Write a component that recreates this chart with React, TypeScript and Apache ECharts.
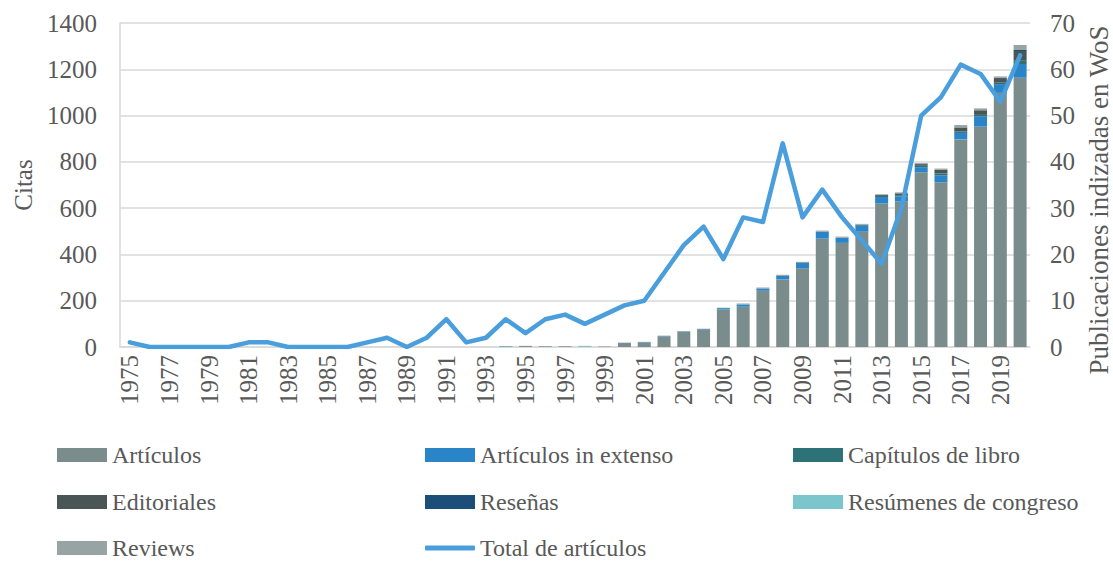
import React, { useEffect, useRef } from "react";
import * as echarts from "echarts";

const years = [
  "1975", "1976", "1977", "1978", "1979", "1980", "1981", "1982", "1983", "1984",
  "1985", "1986", "1987", "1988", "1989", "1990", "1991", "1992", "1993", "1994",
  "1995", "1996", "1997", "1998", "1999", "2000", "2001", "2002", "2003", "2004",
  "2005", "2006", "2007", "2008", "2009", "2010", "2011", "2012", "2013", "2014",
  "2015", "2016", "2017", "2018", "2019", "2020",
];

const articulos = [
  0, 0, 0, 0, 0, 0, 0, 0, 0, 0,
  0, 0, 0, 0, 0, 0, 0, 0, 0, 2,
  4, 3, 3, 2, 2, 17, 20, 46, 66, 75,
  163, 174, 243, 292, 340, 468, 450, 498, 620, 628,
  755, 712, 897, 952, 1098, 1163,
];
const extenso = [
  0, 0, 0, 0, 0, 0, 0, 0, 0, 0,
  0, 0, 0, 0, 0, 0, 0, 0, 0, 1,
  0, 0, 0, 0, 0, 1, 2, 2, 2, 3,
  5, 10, 10, 15, 23, 30, 22, 26, 28, 22,
  22, 30, 28, 45, 38, 60,
];
const capitulos = [
  0, 0, 0, 0, 0, 0, 0, 0, 0, 0,
  0, 0, 0, 0, 0, 0, 0, 0, 0, 0,
  0, 0, 0, 0, 0, 0, 0, 0, 0, 0,
  0, 0, 0, 0, 0, 0, 0, 4, 5, 6,
  6, 8, 6, 6, 6, 14,
];
const editoriales = [
  0, 0, 0, 0, 0, 0, 0, 0, 0, 0,
  0, 0, 0, 0, 0, 0, 0, 0, 0, 0,
  0, 0, 0, 0, 0, 0, 0, 0, 0, 0,
  0, 0, 0, 0, 0, 0, 0, 0, 4, 8,
  7, 16, 16, 20, 20, 42,
];
const resenas = [
  0, 0, 0, 0, 0, 0, 0, 0, 0, 0,
  0, 0, 0, 0, 0, 0, 0, 0, 0, 0,
  0, 0, 0, 0, 0, 0, 0, 0, 0, 0,
  0, 0, 0, 0, 0, 0, 0, 0, 0, 0,
  2, 0, 2, 0, 2, 4,
];
const resumenes = [
  0, 0, 0, 0, 0, 0, 0, 0, 0, 0,
  0, 0, 0, 0, 0, 0, 0, 0, 0, 1,
  0, 0, 0, 3, 0, 0, 0, 0, 0, 0,
  2, 1, 0, 0, 0, 0, 0, 0, 0, 0,
  0, 0, 0, 0, 0, 0,
];
const reviews = [
  0, 0, 0, 0, 0, 0, 0, 0, 0, 0,
  0, 0, 0, 0, 0, 0, 0, 0, 0, 0,
  1, 0, 0, 0, 0, 1, 0, 1, 1, 1,
  0, 3, 4, 5, 5, 5, 5, 4, 3, 4,
  3, 5, 10, 8, 5, 22,
];
const totalArticulos = [
  1, 0, 0, 0, 0, 0, 1, 1, 0, 0,
  0, 0, 1, 2, 0, 2, 6, 1, 2, 6,
  3, 6, 7, 5, 7, 9, 10, 16, 22, 26,
  19, 28, 27, 44, 28, 34, 28, 23, 18, 30,
  50, 54, 61, 59, 53, 63,
];

const leftTicks = [0, 200, 400, 600, 800, 1000, 1200, 1400];
const rightTicks = [0, 10, 20, 30, 40, 50, 60, 70];

const FONT = "Liberation Serif";
const TXT = "#595959";

const barSeries = [
  { name: "Artículos", data: articulos, color: "#7B8C8D" },
  { name: "Artículos in extenso", data: extenso, color: "#2A84C8" },
  { name: "Capítulos de libro", data: capitulos, color: "#2D7276" },
  { name: "Editoriales", data: editoriales, color: "#4A5556" },
  { name: "Reseñas", data: resenas, color: "#1B4E79" },
  { name: "Resúmenes de congreso", data: resumenes, color: "#7BC5CC" },
  { name: "Reviews", data: reviews, color: "#98A3A3" },
];
const lineName = "Total de artículos";
const lineColor = "#4A9EDC";

// legend layout: [name, left, rowCenter]
const legendPos: [string, number, number][] = [
  ["Artículos", 57, 455],
  ["Artículos in extenso", 425, 455],
  ["Capítulos de libro", 793, 455],
  ["Editoriales", 57, 502],
  ["Reseñas", 425, 502],
  ["Resúmenes de congreso", 793, 502],
  ["Reviews", 57, 548],
  [lineName, 425, 548],
];

export default function App() {
  const ref = useRef<HTMLDivElement>(null);
  useEffect(() => {
    if (!ref.current) return;
    const chart = echarts.init(ref.current, undefined, { renderer: "svg" });
    const legends = legendPos.map(([name, left, cy]) => {
      const isLine = name === lineName;
      return {
        show: true,
        left,
        top: cy - 12,
        padding: 0,
        orient: "horizontal",
        selectedMode: false,
        itemWidth: 50,
        itemHeight: isLine ? 5 : 14,
        itemGap: 5,
        icon: isLine ? "roundRect" : "rect",
        textStyle: { fontFamily: FONT, fontSize: 24, color: TXT },
        data: [name],
      };
    });
    chart.setOption({
      animation: false,
      backgroundColor: "#ffffff",
      textStyle: { fontFamily: FONT },
      grid: { left: 120, right: 83, top: 23, bottom: 215, containLabel: false },
      legend: legends,
      graphic: [
        {
          type: "text",
          x: 1099,
          y: 200,
          rotation: Math.PI / 2,
          style: {
            text: "Publicaciones indizadas en WoS",
            fontFamily: FONT,
            fontSize: 27,
            fill: TXT,
            align: "center",
            verticalAlign: "middle",
          },
        },
      ],
      xAxis: {
        type: "category",
        data: years,
        boundaryGap: true,
        axisLine: { show: true, lineStyle: { color: "#D9D9D9", width: 1.5 } },
        axisTick: { show: false },
        axisLabel: {
          interval: 1,
          rotate: 90,
          margin: 8,
          fontFamily: FONT,
          fontSize: 25,
          color: TXT,
          formatter: (v: string) => v,
        },
      },
      yAxis: [
        {
          type: "value",
          min: leftTicks[0],
          max: leftTicks[leftTicks.length - 1],
          interval: 200,
          name: "Citas",
          nameLocation: "middle",
          nameGap: 84,
          nameTextStyle: { fontFamily: FONT, fontSize: 25, color: TXT },
          axisLine: { show: true, lineStyle: { color: "#D9D9D9", width: 1.5 } },
          axisTick: { show: false },
          axisLabel: {
            margin: 23,
            fontFamily: FONT,
            fontSize: 25,
            color: TXT,
            formatter: (v: number) => String(v),
          },
          splitLine: { show: true, lineStyle: { color: "#D9D9D9", width: 1.5 } },
        },
        {
          type: "value",
          position: "right",
          min: rightTicks[0],
          max: rightTicks[rightTicks.length - 1],
          interval: 10,
          axisLine: { show: false },
          axisTick: { show: false },
          axisLabel: {
            margin: 20,
            fontFamily: FONT,
            fontSize: 25,
            color: TXT,
            formatter: (v: number) => String(v),
          },
          splitLine: { show: false },
        },
      ],
      series: [
        ...barSeries.map((s) => ({
          name: s.name,
          type: "bar",
          stack: "citas",
          yAxisIndex: 0,
          barWidth: 13,
          data: s.data,
          itemStyle: { color: s.color },
        })),
        {
          name: lineName,
          type: "line",
          yAxisIndex: 1,
          data: totalArticulos,
          showSymbol: false,
          symbol: "none",
          z: 10,
          lineStyle: { color: lineColor, width: 4.5, cap: "round", join: "round" },
          itemStyle: { color: lineColor },
        },
      ],
    });
    return () => chart.dispose();
  }, []);
  return (
    <div
      ref={ref}
      style={{ position: "absolute", left: 0, top: 0, width: 1113, height: 562 }}
    />
  );
}
